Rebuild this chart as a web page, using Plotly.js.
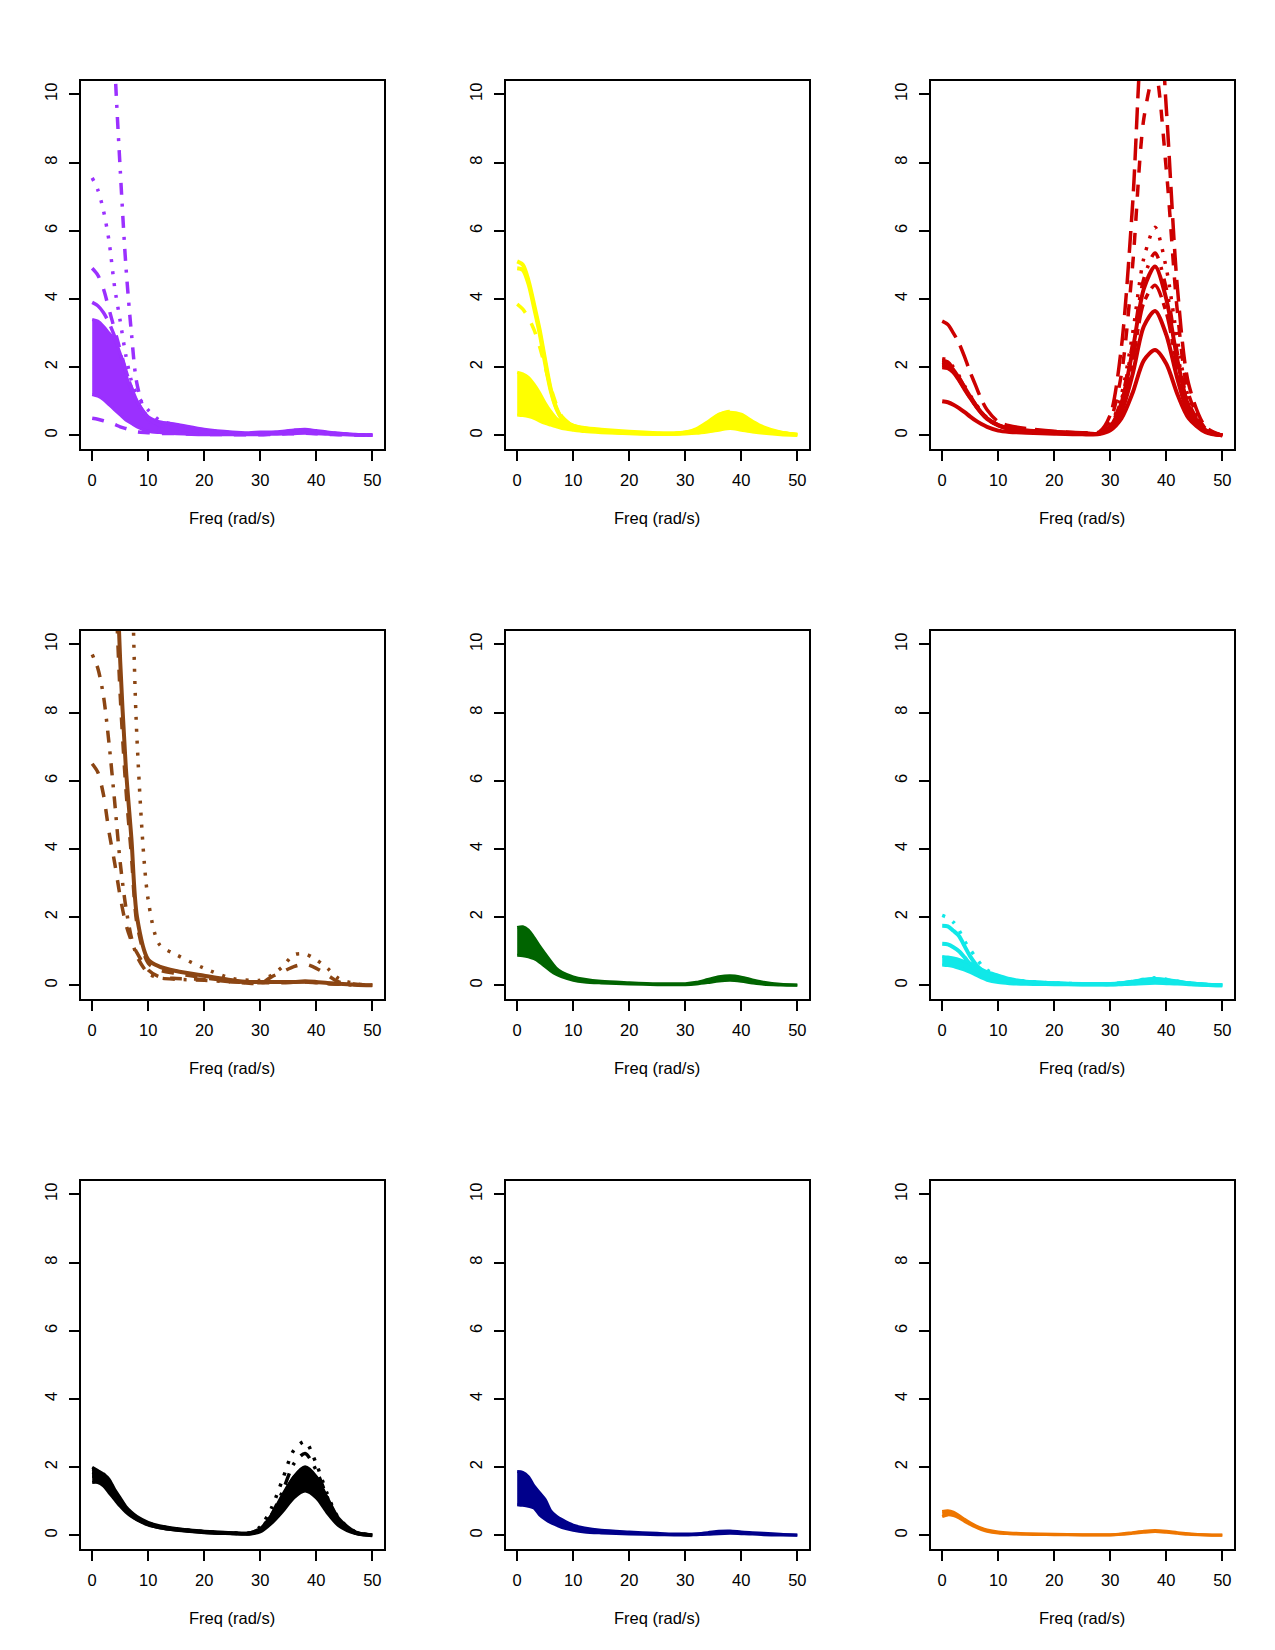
<!DOCTYPE html>
<html>
<head>
<meta charset="utf-8">
<script src="https://cdn.plot.ly/plotly-3.0.1.min.js"></script>
<style>html,body{margin:0;padding:0;background:#fff;}#plot{width:1275px;height:1650px;}</style>
</head>
<body>
<div id="plot"></div>
<script>
// ---------- data ----------
const freq = [0,1,2,3,4,5,6,7,8,10,12,15,20,25,28,30,32,34,36,38,40,42,44,47,50];
const xTicks = [0,10,20,30,40,50];
const yTicks = [0,2,4,6,8,10];
const xLabel = "Freq (rad/s)";

// panel 1 (purple)
const purpleBandLo = [1.2,1.15,1.05,0.9,0.75,0.6,0.45,0.35,0.25,0.12,0.08,0.05,0.02,0.02,0.02,0.02,0.03,0.04,0.05,0.06,0.05,0.03,0.02,0.01,0];
const purpleBandHi = [3.4,3.35,3.2,3.0,2.8,2.4,1.8,1.3,1.0,0.55,0.4,0.33,0.18,0.1,0.08,0.1,0.1,0.12,0.16,0.18,0.14,0.1,0.07,0.03,0.01];
const purpleSteep = [60,40,25,16,11,7.8,5.0,3.0,1.5,0.45,0.2,0.12,0.06,0.04,0.04,0.05,0.06,0.08,0.1,0.12,0.1,0.07,0.04,0.02,0];
const purpleDot = [7.55,7.2,6.6,5.7,4.35,3.35,2.35,1.6,1.2,0.74,0.45,0.3,0.15,0.08,0.06,0.06,0.07,0.1,0.12,0.14,0.12,0.08,0.05,0.02,0];
const purpleDash1 = [4.9,4.7,4.3,3.7,3.1,2.5,1.9,1.4,1.0,0.5,0.3,0.2,0.1,0.06,0.05,0.05,0.06,0.08,0.1,0.12,0.1,0.07,0.04,0.02,0];
const purpleDash2 = [3.9,3.8,3.6,3.3,2.9,2.4,1.9,1.4,1.0,0.5,0.3,0.2,0.1,0.06,0.05,0.05,0.06,0.09,0.12,0.14,0.11,0.07,0.04,0.02,0];
const purpleLow = [0.5,0.47,0.43,0.38,0.32,0.25,0.2,0.15,0.1,0.08,0.06,0.05,0.03,0.02,0.02,0.02,0.03,0.04,0.05,0.06,0.05,0.03,0.02,0.01,0];

// panel 2 (yellow)
const yellowTop1 = [5.1,5.0,4.55,3.85,3.1,2.2,1.35,0.8,0.5,0.28,0.2,0.13,0.08,0.05,0.05,0.08,0.15,0.3,0.55,0.62,0.48,0.3,0.18,0.08,0.02];
const yellowTop2 = [4.9,4.85,4.45,3.75,3.0,2.1,1.3,0.78,0.48,0.27,0.19,0.12,0.07,0.05,0.05,0.08,0.14,0.28,0.5,0.58,0.45,0.28,0.16,0.07,0.02];
const yellowDash = [3.85,3.7,3.45,3.1,2.6,2.0,1.4,0.9,0.55,0.28,0.2,0.13,0.08,0.05,0.05,0.08,0.15,0.32,0.6,0.7,0.55,0.35,0.2,0.08,0.02];
const yellowBandLo = [0.6,0.58,0.55,0.5,0.42,0.35,0.3,0.25,0.2,0.15,0.11,0.08,0.05,0.03,0.03,0.04,0.06,0.1,0.15,0.2,0.15,0.1,0.06,0.02,0];
const yellowBandHi = [1.85,1.8,1.7,1.5,1.25,0.95,0.7,0.5,0.4,0.3,0.23,0.18,0.12,0.08,0.07,0.1,0.2,0.4,0.62,0.68,0.62,0.42,0.25,0.1,0.02];

// panel 3 (red)
const redLongdash = [3.35,3.25,3.0,2.7,2.3,1.85,1.45,1.05,0.75,0.4,0.28,0.2,0.12,0.08,0.1,0.6,2.6,6.8,12.5,14,9.6,4.3,1.5,0.25,0];
const redDash = [2.2,2.15,1.95,1.7,1.42,1.15,0.9,0.68,0.5,0.3,0.2,0.14,0.1,0.06,0.08,0.45,1.8,5.0,9.3,10.7,7.8,3.6,1.2,0.2,0];
const redDot = [2.25,2.2,2.0,1.75,1.45,1.18,0.92,0.7,0.52,0.3,0.2,0.14,0.1,0.06,0.06,0.3,1.2,3.0,5.2,6.1,4.9,2.8,1.1,0.2,0];
const redDotdash = [2.1,2.05,1.9,1.65,1.38,1.12,0.88,0.67,0.5,0.3,0.2,0.14,0.1,0.06,0.06,0.28,1.05,2.7,4.6,5.35,4.3,2.4,0.95,0.17,0];
const redTwodash = [2.05,2.0,1.88,1.63,1.36,1.1,0.87,0.66,0.49,0.29,0.19,0.13,0.09,0.05,0.05,0.22,0.85,2.2,3.9,4.4,3.6,2.0,0.8,0.15,0];
const redSolid1 = [2.0,1.97,1.85,1.62,1.35,1.1,0.86,0.65,0.48,0.29,0.19,0.13,0.09,0.05,0.05,0.25,0.95,2.5,4.3,4.95,4.0,2.2,0.85,0.15,0];
const redSolid2 = [2.15,2.1,1.92,1.68,1.4,1.13,0.88,0.67,0.5,0.3,0.2,0.14,0.1,0.06,0.05,0.2,0.7,1.8,3.2,3.65,2.95,1.65,0.65,0.12,0];
const redSolid3 = [1.0,0.97,0.9,0.8,0.68,0.55,0.43,0.33,0.25,0.14,0.1,0.08,0.05,0.03,0.04,0.15,0.5,1.25,2.2,2.5,2.1,1.2,0.5,0.09,0];

// panel 4 (brown)
const brownSolid = [60,40,28,20,14,9.5,6.4,4.3,2.0,0.75,0.55,0.42,0.28,0.15,0.1,0.1,0.1,0.1,0.1,0.12,0.1,0.07,0.05,0.02,0];
const brownSolid2 = [55,36,25,18,12.5,8.5,5.8,3.8,1.8,0.65,0.45,0.35,0.22,0.12,0.08,0.08,0.08,0.08,0.09,0.1,0.08,0.06,0.04,0.02,0];
const brownDot = [200,150,100,70,50,32,21,13,7.2,2.5,1.2,0.9,0.5,0.2,0.15,0.15,0.3,0.55,0.9,0.92,0.75,0.5,0.2,0.05,0];
const brownDotdash = [9.7,9.3,8.5,7.1,5.4,3.6,2.3,1.4,0.85,0.35,0.22,0.18,0.15,0.1,0.08,0.08,0.1,0.1,0.1,0.1,0.08,0.05,0.03,0.01,0];
const brownDash = [6.5,6.25,5.6,4.5,3.6,2.6,1.8,1.3,0.95,0.45,0.25,0.2,0.18,0.1,0.06,0.06,0.25,0.4,0.55,0.62,0.5,0.3,0.1,0.03,0];

// panel 5 (green)
const greenBandLo = [0.88,0.87,0.84,0.78,0.68,0.55,0.42,0.32,0.25,0.15,0.1,0.07,0.04,0.02,0.02,0.02,0.04,0.08,0.13,0.15,0.12,0.07,0.03,0.01,0];
const greenBandHi = [1.7,1.72,1.62,1.4,1.15,0.92,0.7,0.5,0.38,0.25,0.18,0.12,0.08,0.05,0.05,0.05,0.09,0.17,0.25,0.28,0.24,0.16,0.09,0.03,0.01];

// panel 6 (cyan)
const cyanBandLo = [0.6,0.58,0.55,0.5,0.45,0.38,0.3,0.22,0.15,0.08,0.05,0.03,0.02,0.01,0.01,0.01,0.02,0.03,0.05,0.06,0.05,0.04,0.02,0.01,0];
const cyanBandHi = [0.85,0.83,0.8,0.76,0.7,0.65,0.58,0.48,0.4,0.3,0.2,0.12,0.08,0.05,0.05,0.05,0.08,0.12,0.18,0.2,0.17,0.13,0.08,0.04,0.01];
const cyanDot = [2.05,1.98,1.85,1.62,1.3,1.05,0.82,0.6,0.45,0.28,0.18,0.12,0.07,0.05,0.05,0.05,0.07,0.12,0.18,0.22,0.18,0.12,0.07,0.02,0];
const cyanLine1 = [1.75,1.73,1.6,1.45,1.15,0.85,0.62,0.45,0.33,0.2,0.14,0.1,0.06,0.04,0.04,0.04,0.06,0.1,0.15,0.18,0.15,0.1,0.06,0.02,0];
const cyanLine2 = [1.22,1.2,1.12,1.0,0.82,0.62,0.48,0.38,0.3,0.2,0.14,0.09,0.05,0.03,0.03,0.03,0.05,0.09,0.14,0.17,0.14,0.09,0.05,0.02,0];

// panel 7 (black)
const blackBandLo = [1.55,1.55,1.45,1.25,1.05,0.85,0.68,0.55,0.45,0.3,0.22,0.15,0.08,0.05,0.04,0.1,0.35,0.7,1.1,1.3,1.1,0.65,0.28,0.05,0];
const blackBandHi = [2.0,1.9,1.8,1.65,1.35,1.1,0.85,0.68,0.55,0.38,0.28,0.2,0.12,0.08,0.07,0.2,0.6,1.2,1.7,1.95,1.7,1.1,0.5,0.1,0.01];
const blackDot = [1.95,1.9,1.8,1.6,1.3,1.05,0.82,0.65,0.52,0.36,0.27,0.19,0.11,0.07,0.07,0.25,0.8,1.65,2.5,2.75,2.1,1.2,0.5,0.1,0.01];
const blackDotdash = [1.85,1.8,1.7,1.5,1.25,1.0,0.78,0.62,0.5,0.34,0.25,0.18,0.1,0.06,0.06,0.2,0.6,1.3,2.1,2.4,1.9,1.1,0.45,0.08,0];
const blackSolid = [1.75,1.72,1.62,1.42,1.18,0.95,0.75,0.6,0.48,0.33,0.24,0.17,0.1,0.06,0.05,0.15,0.5,1.1,1.7,2.0,1.7,1.0,0.4,0.07,0];

// panel 8 (navy)
const navyBandLo = [0.9,0.88,0.85,0.8,0.6,0.47,0.37,0.3,0.23,0.15,0.1,0.07,0.04,0.02,0.01,0.01,0.02,0.03,0.05,0.06,0.05,0.04,0.02,0.01,0];
const navyBandHi = [1.87,1.85,1.72,1.45,1.25,1.05,0.72,0.56,0.46,0.3,0.22,0.15,0.1,0.06,0.04,0.04,0.05,0.08,0.12,0.13,0.1,0.08,0.06,0.03,0.01];

// panel 9 (orange)
const orangeHi = [0.7,0.72,0.68,0.58,0.47,0.37,0.28,0.21,0.16,0.1,0.07,0.05,0.03,0.02,0.02,0.02,0.04,0.08,0.12,0.14,0.12,0.08,0.05,0.02,0.01];
const orangeLo = [0.55,0.6,0.58,0.51,0.41,0.32,0.24,0.17,0.12,0.07,0.05,0.03,0.02,0.01,0.01,0.01,0.03,0.06,0.09,0.11,0.09,0.06,0.03,0.01,0];

// ---------- styles ----------
const DASH = {
  solid: 'solid',
  dash: '12px,12px',
  dot: '3px,9px',
  dotdash: '3px,9px,12px,9px',
  longdash: '22px,9px',
  twodash: '6px,6px,19px,6px'
};

const panels = [
  {color:'#9B30FF', bands:[[purpleBandLo,purpleBandHi]],
   lines:[[purpleSteep,'dotdash'],[purpleDot,'dot'],[purpleDash1,'dash'],[purpleDash2,'longdash'],[purpleLow,'dash']]},
  {color:'#FFFF00', bands:[[yellowBandLo,yellowBandHi]],
   lines:[[yellowTop1,'solid'],[yellowTop2,'solid'],[yellowDash,'dash']]},
  {color:'#CD0000', bands:[],
   lines:[[redLongdash,'longdash'],[redDash,'dash'],[redDot,'dot'],[redDotdash,'dotdash'],[redTwodash,'twodash'],[redSolid1,'solid'],[redSolid2,'solid'],[redSolid3,'solid']]},
  {color:'#8B4513', bands:[],
   lines:[[brownSolid,'solid'],[brownSolid2,'dash'],[brownDot,'dot'],[brownDotdash,'dotdash'],[brownDash,'dash']]},
  {color:'#006400', bands:[[greenBandLo,greenBandHi]], lines:[]},
  {color:'#10E8E8', bands:[[cyanBandLo,cyanBandHi]],
   lines:[[cyanDot,'dot'],[cyanLine1,'solid'],[cyanLine2,'solid']]},
  {color:'#000000', bands:[[blackBandLo,blackBandHi]],
   lines:[[blackDot,'dot'],[blackDotdash,'dotdash'],[blackSolid,'solid']]},
  {color:'#00008B', bands:[[navyBandLo,navyBandHi]], lines:[]},
  {color:'#EE7600', bands:[[orangeLo,orangeHi]], lines:[]}
];

// ---------- build ----------
const W = 1275, H = 1650, CW = 425, CH = 550;
const PL = 81, PR = 383.5, PT = 80.7, PB = 449;
const FONT = 'Liberation Sans, Arial, Helvetica, sans-serif';

const data = [];
const layout = {
  width: W, height: H,
  margin: {l:0, r:0, t:0, b:0},
  paper_bgcolor: '#fff', plot_bgcolor: '#fff',
  showlegend: false,
  annotations: []
};

panels.forEach((p, i) => {
  const n = i + 1;
  const col = i % 3, row = Math.floor(i / 3);
  const xa = 'x' + (n === 1 ? '' : n), ya = 'y' + (n === 1 ? '' : n);
  const xKey = 'xaxis' + (n === 1 ? '' : n), yKey = 'yaxis' + (n === 1 ? '' : n);
  const x0 = (col * CW + PL) / W, x1 = (col * CW + PR) / W;
  const yTop = row * CH + PT, yBot = row * CH + PB;
  const common = {
    showgrid: false, zeroline: false, showline: true, mirror: true,
    linecolor: '#000', linewidth: 2, ticks: 'outside', ticklen: 10,
    tickwidth: 2, tickcolor: '#000',
    tickfont: {family: FONT, size: 16.5, color: '#000'}, fixedrange: true
  };
  layout[xKey] = Object.assign({}, common, {
    domain: [x0, x1], anchor: ya, range: [-2, 52],
    tickmode: 'array', tickvals: xTicks, ticktext: xTicks.map(String),
    ticklabelstandoff: 5
  });
  layout[yKey] = Object.assign({}, common, {
    domain: [1 - yBot / H, 1 - yTop / H], anchor: xa, range: [-0.4, 10.4],
    tickmode: 'array', tickvals: yTicks, ticktext: yTicks.map(String),
    tickangle: -90, ticklabelstandoff: 5
  });
  layout.annotations.push({
    xref: 'paper', yref: 'paper', x: (x0 + x1) / 2, y: 1 - (row * CH + 518) / H,
    xanchor: 'center', yanchor: 'middle', showarrow: false, text: xLabel,
    font: {family: FONT, size: 16.5, color: '#000'}
  });

  p.bands.forEach(([lo, hi]) => {
    data.push({x: freq, y: lo, xaxis: xa, yaxis: ya, type: 'scatter', mode: 'lines',
      line: {color: p.color, width: 3, shape: 'spline', smoothing: 0.8}, hoverinfo: 'skip'});
    data.push({x: freq, y: hi, xaxis: xa, yaxis: ya, type: 'scatter', mode: 'lines',
      fill: 'tonexty', fillcolor: p.color,
      line: {color: p.color, width: 3, shape: 'spline', smoothing: 0.8}, hoverinfo: 'skip'});
  });
  p.lines.forEach(([vals, lty]) => {
    data.push({x: freq, y: vals, xaxis: xa, yaxis: ya, type: 'scatter', mode: 'lines',
      line: {color: p.color, width: lty === 'solid' ? 4 : 3.5, dash: DASH[lty], shape: 'spline', smoothing: 0.8},
      hoverinfo: 'skip'});
  });
});

Plotly.newPlot('plot', data, layout, {staticPlot: true, displayModeBar: false});
</script>
</body>
</html>
